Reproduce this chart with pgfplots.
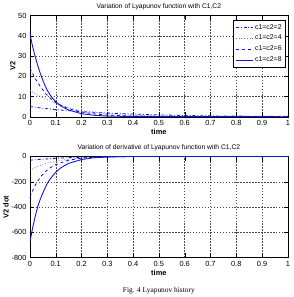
\documentclass[border=0pt]{standalone}
\usepackage{pgfplots}
\pgfplotsset{compat=1.18}
\usepackage{fontspec}
\setmainfont{Liberation Sans}
\newfontfamily\capfont{Liberation Serif}
\definecolor{mblue}{RGB}{20,20,215}
\definecolor{lblue}{RGB}{110,110,225}
\pgfplotsset{
  myaxis/.style={
    scale only axis, width=260bp, height=102bp,
    xmin=0, xmax=1, xtick={0,0.1,...,1},
    grid=major, major grid style={black!70, dash pattern=on 1.5pt off 1.5pt, line width=0.35pt},
    tick style={black}, axis line style={black},
    tick align=inside, ticklabel style={font=\fontsize{7.5}{8}\selectfont},
    /pgf/number format/assume math mode=true,
    xticklabel style={/pgf/number format/fixed},
    xlabel={\bfseries time}, ylabel={\bfseries V2},
    label style={font=\fontsize{7.5}{9}\selectfont},
    title style={font=\fontsize{6.8}{8}\selectfont, yshift=-3.5bp},
    xlabel style={yshift=3bp}, ylabel style={yshift=-4bp},
  }
}
\begin{document}
\begin{tikzpicture}
\path (0,0) rectangle (294bp,-297bp);
\begin{axis}[myaxis, at={(29bp,-117bp)}, anchor=south west,
  ymin=0, ymax=50, ytick={0,10,...,50},
  title={Variation of Lyapunov function with C1,C2},
  legend style={at={(0.992,0.955)}, anchor=north east, font=\fontsize{7}{8.5}\selectfont, draw=black, row sep=0.6pt, inner sep=2pt, legend cell align=left},
  legend image code/.code={\draw[#1] (0cm,0cm) -- (0.6cm,0cm);}]
\addplot[mblue, line width=0.85pt, dash dot] coordinates {(0,5) (0.05,4.2) (0.1,3.5) (0.15,3) (0.2,2.5) (0.3,1.8) (0.4,1.3) (0.5,0.9) (0.6,0.6) (0.7,0.4) (0.8,0.3) (0.9,0.2) (1,0.15)};
\addlegendentry{c1=c2=2}
\addplot[lblue, line width=0.8pt, dotted] coordinates {(0,13) (0.025,11) (0.05,9.5) (0.075,8) (0.1,6.5) (0.15,4.5) (0.2,3) (0.3,1.5) (0.4,0.8) (0.5,0.4) (0.6,0.2) (0.8,0.1) (1,0.05)};
\addlegendentry{c1=c2=4}
\addplot[mblue, line width=0.85pt, dashed] coordinates {(0,24) (0.02,19) (0.04,15) (0.06,11.5) (0.08,9) (0.1,7) (0.125,5.3) (0.15,4) (0.2,2.3) (0.25,1.4) (0.3,0.8) (0.4,0.3) (0.6,0.1) (1,0.05)};
\addlegendentry{c1=c2=6}
\addplot[mblue, line width=0.9pt, solid] coordinates {(0,41) (0.01,35) (0.02,30) (0.03,25.5) (0.04,21.5) (0.05,18) (0.06,15) (0.07,12.5) (0.08,10.5) (0.09,8.8) (0.1,7.5) (0.12,5.3) (0.15,3.3) (0.2,1.5) (0.25,0.7) (0.3,0.3) (0.4,0.1) (1,0)};
\addlegendentry{c1=c2=8}
\end{axis}
\begin{axis}[myaxis, at={(29bp,-259bp)}, anchor=south west,
  ymin=-800, ymax=0, ytick={-800,-600,...,0}, ylabel={\bfseries V2 dot},
  title={Variation of derivative of Lyapunov function with C1,C2}]
\addplot[mblue, line width=0.85pt, dash dot] coordinates {(0,-30) (0.05,-22) (0.1,-15) (0.15,-10) (0.2,-7) (0.3,-3) (0.4,-1) (0.5,0) (1,0)};
\addplot[lblue, line width=0.8pt, dotted] coordinates {(0,-110) (0.03,-80) (0.06,-58) (0.1,-38) (0.15,-22) (0.2,-12) (0.3,-4) (0.4,-1) (0.5,0) (1,0)};
\addplot[mblue, line width=0.85pt, dashed] coordinates {(0,-320) (0.02,-230) (0.04,-165) (0.06,-120) (0.08,-88) (0.1,-65) (0.15,-30) (0.2,-14) (0.25,-6) (0.3,-3) (0.4,0) (1,0)};
\addplot[mblue, line width=0.9pt, solid] coordinates {(0,-680) (0.01,-570) (0.02,-480) (0.03,-400) (0.04,-340) (0.05,-290) (0.06,-245) (0.07,-205) (0.08,-175) (0.1,-125) (0.12,-90) (0.15,-55) (0.2,-25) (0.25,-10) (0.3,-5) (0.35,-2) (0.4,0) (1,0)};
\end{axis}
\node[font=\capfont\fontsize{7.5}{9}\selectfont] at (159bp,-292bp) {Fig. 4 Lyapunov history};
\end{tikzpicture}
\end{document}
